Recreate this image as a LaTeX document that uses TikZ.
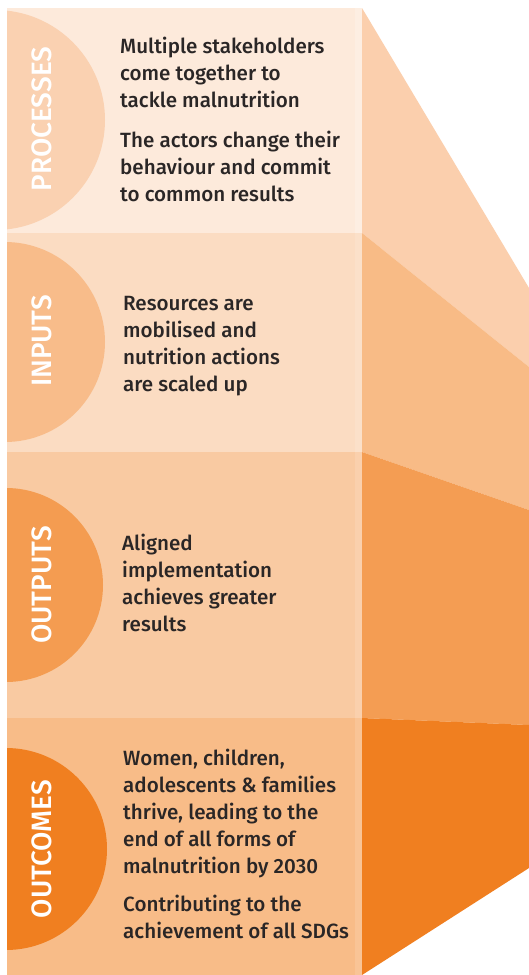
\documentclass[tikz,border=0pt]{standalone}
\usepackage{fontspec}
\setmainfont{Fira Sans}[UprightFont=* Medium, BoldFont=* SemiBold]
\definecolor{txt}{HTML}{2A2626}
\definecolor{panelA}{HTML}{FDEADB}
\definecolor{circA}{HTML}{FAD1B1}
\definecolor{polyA}{HTML}{FBCFAD}
\definecolor{panelB}{HTML}{FBDCC2}
\definecolor{circB}{HTML}{F8BC8A}
\definecolor{polyB}{HTML}{F8BB86}
\definecolor{panelC}{HTML}{F9CAA2}
\definecolor{circC}{HTML}{F49C51}
\definecolor{polyC}{HTML}{F49D53}
\definecolor{panelD}{HTML}{F8BC88}
\definecolor{circD}{HTML}{F07F20}
\definecolor{polyD}{HTML}{F07F20}
\tikzset{
  lbl/.style={rotate=90, text=white, inner sep=0pt, anchor=center, font=\fontsize{28}{30}\selectfont},
  body/.style={anchor=base west, inner sep=0pt, text=txt},
}
\newcommand{\bodytext}[1]{\parbox[t]{240pt}{\fontsize{20.6}{27}\selectfont\raggedright #1}}
\begin{document}
\begin{tikzpicture}[x=1pt,y=-1pt]
\useasboundingbox (0,0) rectangle (529,975);
\fill[white] (0,0) rectangle (529,975);
% right fan polygons
\fill[polyA] (362,8) -- (529,288) -- (529,367) -- (362,233) -- cycle;
\fill[polyB] (362,233) -- (529,367) -- (529,510) -- (362,452) -- cycle;
\fill[polyC] (362,452) -- (529,510) -- (529,725) -- (362,718) -- cycle;
\fill[polyD] (362,718) -- (529,725) -- (529,868) -- (362,975) -- cycle;
% panels
\fill[panelA] (7,8) rectangle (362,233);
\fill[panelB] (7,233) rectangle (362,452);
\fill[panelC] (7,452) rectangle (362,718);
\fill[panelD] (7,718) rectangle (362,975);
% light strip at right edge of panels
\fill[panelA!80!white] (355,8) rectangle (362,233);
\fill[panelB!88!white] (355,233) rectangle (362,452);
\fill[panelC!88!white] (355,452) rectangle (362,718);
\fill[panelD!88!white] (355,718) rectangle (362,975);
% half discs
\begin{scope}
\clip (7,8) rectangle (362,975);
\fill[circA] (-5,120) circle[radius=110];
\fill[circB] (5,342) circle[radius=100];
\fill[circC] (6,585) circle[radius=97];
\fill[circD] (6,849) circle[radius=101];
\end{scope}
% labels
\node[lbl] (lproc) at (42,119) {PROCESSES};
\node[lbl] (linp) at (42,341) {INPUTS};
\node[lbl] (lout) at (42,585) {OUTPUTS};
\node[lbl] (lres) at (42,849) {OUTCOMES};
% texts
\node[body] (tproc) at (120,53) {\bodytext{Multiple stakeholders\\come together to\\tackle malnutrition\par\vspace{13pt}The actors change their\\behaviour and commit\\to common results}};
\node[body] (tinp) at (123,310) {\bodytext{Resources are\\mobilised and\\nutrition actions\\are scaled up}};
\node[body] (tout) at (122,550) {\bodytext{Aligned\\implementation\\achieves greater\\results}};
\node[body] (tres) at (123,765) {\bodytext{Women, children,\\adolescents \& families\\thrive, leading to the\\end of all forms of\\malnutrition by 2030\par\vspace{11pt}Contributing to the\\achievement of all SDGs}};
\end{tikzpicture}
\end{document}
